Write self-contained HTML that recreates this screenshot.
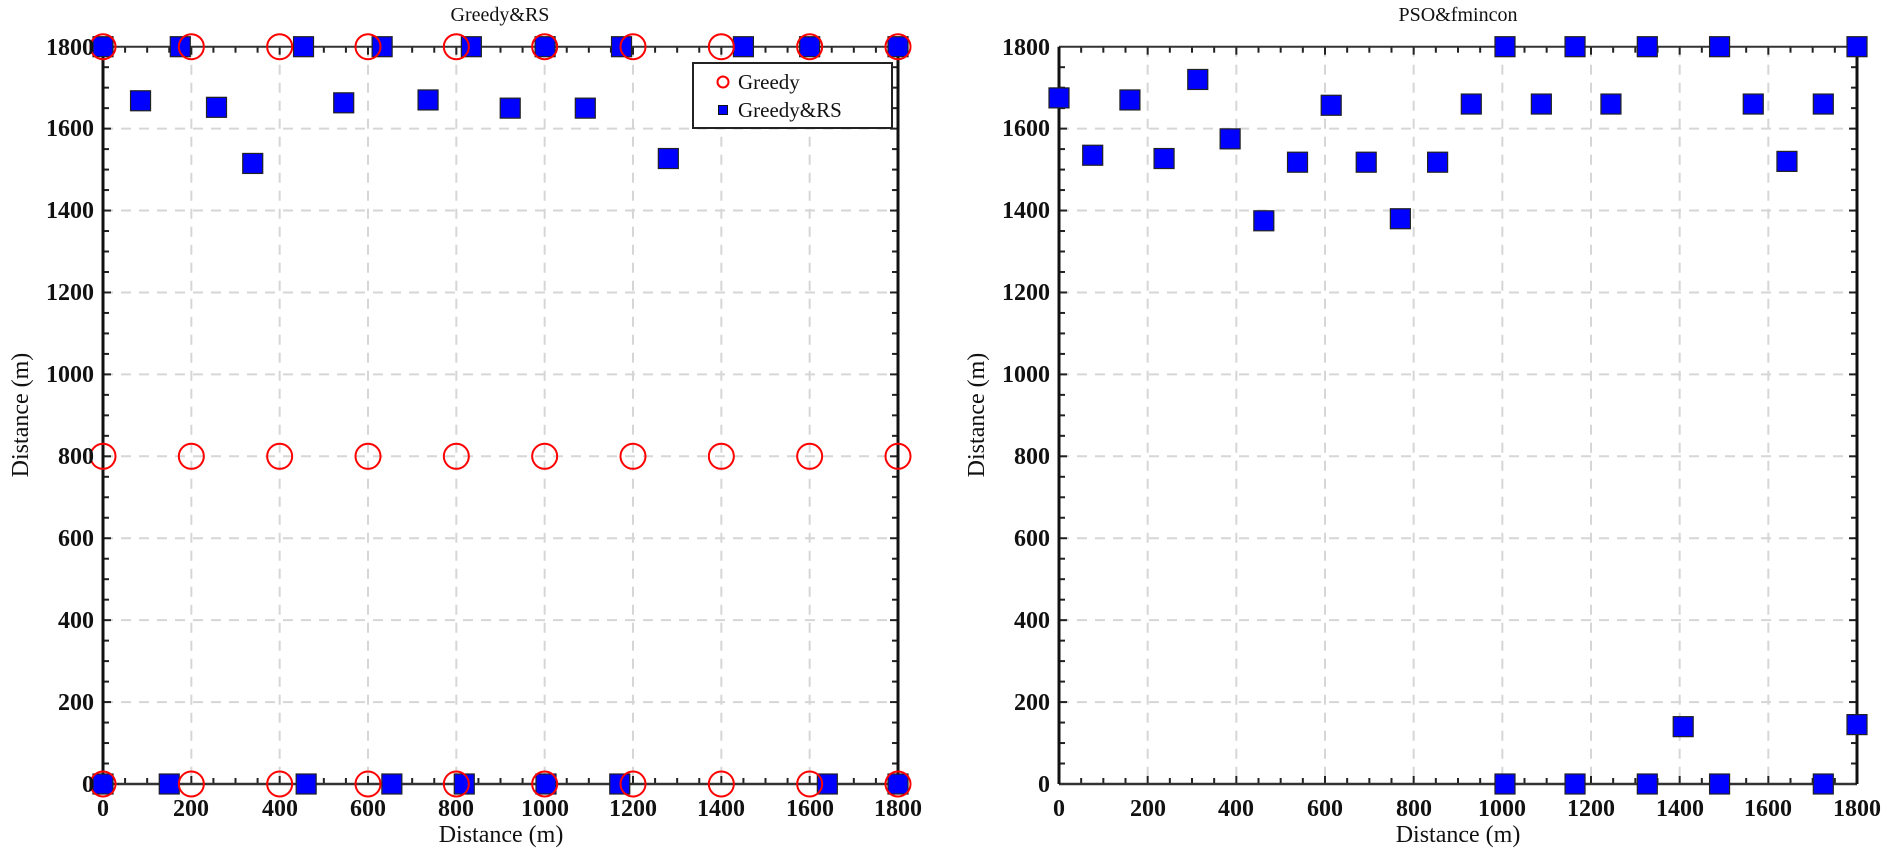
<!DOCTYPE html>
<html><head><meta charset="utf-8"><style>
html,body{margin:0;padding:0;background:#fff;}
svg{display:block;}
text{font-family:"Liberation Serif",serif;fill:#111;}
.t{font-size:24px;font-weight:bold;}
</style></head><body>
<svg id="s" width="1890" height="857" viewBox="0 0 1890 857" xmlns="http://www.w3.org/2000/svg">
<g id="g"></g>
<text x="500" y="21" font-size="20" text-anchor="middle">Greedy&amp;RS</text>
<text x="1458" y="21" font-size="20" text-anchor="middle">PSO&amp;fmincon</text>
<g class="t" text-anchor="middle">
<text x="103" y="816">0</text><text x="191" y="816">200</text><text x="280" y="816">400</text><text x="368" y="816">600</text><text x="456" y="816">800</text><text x="545" y="816">1000</text><text x="633" y="816">1200</text><text x="721" y="816">1400</text><text x="810" y="816">1600</text><text x="898" y="816">1800</text>
<text x="1059" y="816">0</text><text x="1148" y="816">200</text><text x="1236" y="816">400</text><text x="1325" y="816">600</text><text x="1414" y="816">800</text><text x="1502" y="816">1000</text><text x="1591" y="816">1200</text><text x="1680" y="816">1400</text><text x="1768" y="816">1600</text><text x="1857" y="816">1800</text>
</g>
<g class="t" text-anchor="end">
<text x="94" y="792">0</text><text x="94" y="710">200</text><text x="94" y="628">400</text><text x="94" y="546">600</text><text x="94" y="464">800</text><text x="94" y="382">1000</text><text x="94" y="300">1200</text><text x="94" y="218">1400</text><text x="94" y="136">1600</text><text x="94" y="55">1800</text>
<text x="1050" y="792">0</text><text x="1050" y="710">200</text><text x="1050" y="628">400</text><text x="1050" y="546">600</text><text x="1050" y="464">800</text><text x="1050" y="382">1000</text><text x="1050" y="300">1200</text><text x="1050" y="218">1400</text><text x="1050" y="136">1600</text><text x="1050" y="55">1800</text>
</g>
<text x="501" y="842" font-size="24" text-anchor="middle">Distance (m)</text>
<text x="1458" y="842" font-size="24" text-anchor="middle">Distance (m)</text>
<text transform="translate(28,415) rotate(-90)" font-size="24" text-anchor="middle">Distance (m)</text>
<text transform="translate(984,415) rotate(-90)" font-size="24" text-anchor="middle">Distance (m)</text>
<rect x="693" y="63" width="199" height="65" fill="#fff" stroke="#222" stroke-width="2"/>
<circle cx="723" cy="82" r="5.5" fill="none" stroke="#f00" stroke-width="2"/>
<rect x="718.5" y="105.5" width="9" height="9" fill="#00f" stroke="#111" stroke-width="1"/>
<text x="738" y="89" font-size="21">Greedy</text>
<text x="738" y="117" font-size="21">Greedy&amp;RS</text>
</svg>
<script>
var g=document.getElementById('g'),h='';
function plot(x0,x1,data,circ){
 var X=function(u){return x0+u*(x1-x0)/1800},Y=function(v){return 784-v*(784-46.7)/1800};
 for(var k=200;k<1800;k+=200){h+='<line x1="'+X(k)+'" y1="46.7" x2="'+X(k)+'" y2="784" stroke="#d6d6d6" stroke-width="2" stroke-dasharray="10,8"/>';
  h+='<line x1="'+x0+'" y1="'+Y(k)+'" x2="'+x1+'" y2="'+Y(k)+'" stroke="#d6d6d6" stroke-width="2" stroke-dasharray="10,8"/>';}
 for(var k=50;k<1800;k+=50){var L=(k%200==0)?8:6;
  h+='<line x1="'+X(k)+'" y1="784" x2="'+X(k)+'" y2="'+(784-L)+'" stroke="#222" stroke-width="2"/>';
  h+='<line x1="'+X(k)+'" y1="46.7" x2="'+X(k)+'" y2="'+(46.7+L)+'" stroke="#222" stroke-width="2"/>';
  h+='<line x1="'+x0+'" y1="'+Y(k)+'" x2="'+(x0+L)+'" y2="'+Y(k)+'" stroke="#222" stroke-width="2"/>';
  h+='<line x1="'+x1+'" y1="'+Y(k)+'" x2="'+(x1-L)+'" y2="'+Y(k)+'" stroke="#222" stroke-width="2"/>';}
 h+='<line x1="'+x0+'" y1="46.7" x2="'+x1+'" y2="46.7" stroke="#333" stroke-width="2"/>';
 h+='<line x1="'+x0+'" y1="784" x2="'+x1+'" y2="784" stroke="#333" stroke-width="2.5"/>';
 h+='<line x1="'+x0+'" y1="46.7" x2="'+x0+'" y2="784" stroke="#111" stroke-width="3"/>';
 h+='<line x1="'+x1+'" y1="46.7" x2="'+x1+'" y2="784" stroke="#111" stroke-width="3"/>';
 for(var i=0;i<data.length;i++){var p=data[i];
  h+='<rect x="'+(X(p[0])-10)+'" y="'+(Y(p[1])-10)+'" width="20" height="20" fill="#0000ff" stroke="#222" stroke-width="1.2"/>';}
 if(circ){for(var u=0;u<=1800;u+=200){[1800,800,0].forEach(function(v){
  h+='<circle cx="'+X(u)+'" cy="'+Y(v)+'" r="12.5" fill="none" stroke="#f00" stroke-width="2"/>';});}}
}
plot(103,898,[[0,1800],[175,1800],[454,1800],[632,1800],[834,1800],[1001,1800],[1174,1800],[1450,1800],[1600,1800],[1800,1800],
[85,1668],[257,1652],[339,1515],[545,1663],[736,1670],[922,1650],[1092,1650],[1280,1527],
[0,0],[150,0],[460,0],[654,0],[818,0],[1003,0],[1170,0],[1640,0],[1800,0]],true);
plot(1059,1857,[[0,1675],[76,1535],[160,1670],[237,1527],[313,1720],[386,1575],[462,1375],[538,1518],[614,1657],[693,1518],[770,1380],[854,1518],[930,1660],
[1006,1800],[1006,0],[1088,1660],[1164,1800],[1164,0],[1245,1660],[1327,1800],[1327,0],[1408,140],[1490,1800],[1490,0],[1566,1660],[1642,1520],[1724,1660],[1724,0],[1800,1800],[1800,145]],false);
g.innerHTML=h;
</script>
</body></html>
